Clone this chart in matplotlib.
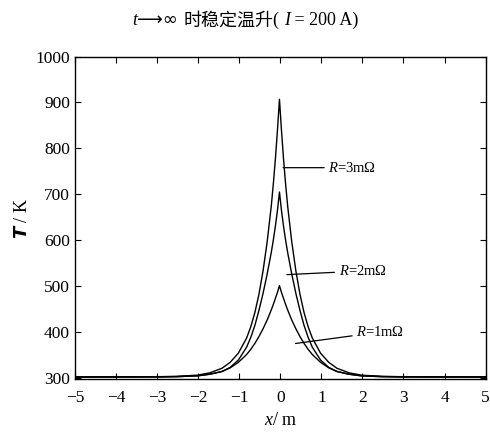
import matplotlib
matplotlib.use("Agg")
import matplotlib.pyplot as plt
import numpy as np

# Distance from the peak centre (m) at which values were read
offsets = [0.0, 0.05, 0.1, 0.15, 0.2, 0.3, 0.4, 0.5, 0.6, 0.7, 0.8, 1.0, 1.2, 1.4, 1.7, 2.0, 2.5, 3.0, 5.2]
center = -0.02

# Temperature (K) read at those offsets, mirrored on both sides of the peak
T_R3 = [907, 838, 776, 722, 674, 596, 533, 482, 442, 411, 387, 354, 334, 321, 311, 306, 303.5, 302.6, 302]
T_R2 = [705, 664, 630, 600, 573, 526, 484, 447, 414, 388, 367, 339, 323, 314, 308, 304.5, 302.8, 302.3, 302]
T_R1 = [501, 486, 473, 460, 448, 426, 407, 390, 375, 362, 351, 334, 322, 314, 308, 304.5, 302.7, 302.3, 302]

series_labels = ["$R$=3m\u03a9", "$R$=2m\u03a9", "$R$=1m\u03a9"]
xticks = [-5, -4, -3, -2, -1, 0, 1, 2, 3, 4, 5]
yticks = [300, 400, 500, 600, 700, 800, 900, 1000]

FAM = ['Liberation Serif', 'Noto Sans CJK SC', 'DejaVu Sans']
plt.rcParams['font.family'] = FAM
plt.rcParams['mathtext.fontset'] = 'custom'
plt.rcParams['mathtext.rm'] = 'Liberation Serif'
plt.rcParams['mathtext.it'] = 'Liberation Serif:italic'
plt.rcParams['mathtext.bf'] = 'Liberation Serif:bold'

fig = plt.figure(figsize=(4.9, 4.32), dpi=100)
ax = fig.add_axes([0.153, 0.122, 0.838, 0.747])

off = np.array(offsets)
for T in (T_R3, T_R2, T_R1):
    Tv = np.array(T)
    xs = np.concatenate([center - off[::-1], center + off[1:]])
    ys = np.concatenate([Tv[::-1], Tv[1:]])
    ax.plot(xs, ys, color='black', lw=1.0)

ax.set_xlim(-5, 5)
ax.set_ylim(297, 1000)
ax.set_xticks(xticks)
ax.set_yticks(yticks)
ax.set_xticklabels([("\u2212%d" % -v) if v < 0 else str(v) for v in xticks])
ax.tick_params(direction='in', top=True, right=True, length=4, width=0.8, labelsize=12.5)
ax.tick_params(axis='x', pad=8)
for s in ax.spines.values():
    s.set_linewidth(1.0)

# annotations
ax.annotate(series_labels[0], xy=(0.07, 758), xytext=(1.17, 758),
            fontsize=10.5, va='center', ha='left',
            arrowprops=dict(arrowstyle='-', color='black', lw=0.9, shrinkA=1, shrinkB=0))
ax.annotate(series_labels[1], xy=(0.16, 525), xytext=(1.42, 533),
            fontsize=10.5, va='center', ha='left',
            arrowprops=dict(arrowstyle='-', color='black', lw=0.9, shrinkA=1, shrinkB=0))
ax.annotate(series_labels[2], xy=(0.37, 375), xytext=(1.85, 400),
            fontsize=10.5, va='center', ha='left',
            arrowprops=dict(arrowstyle='-', color='black', lw=0.9, shrinkA=1, shrinkB=0))

ax.set_xlabel("$x$/ m", fontsize=13, labelpad=4)
ax.set_ylabel(r"$\boldsymbol{T}$ / K", fontsize=13, labelpad=3)

# title assembled from pieces (italic symbols + CJK text)
pieces = [("t", 'italic', FAM), ("\u27f6\u221e ", 'normal', ['DejaVu Sans']),
          ("时稳定温升", 'normal', ['Noto Sans CJK SC']),
          ("( ", 'normal', FAM), ("I", 'italic', FAM), (" = 200 A)", 'normal', FAM)]
fig.canvas.draw()
renderer = fig.canvas.get_renderer()
texts = []
for s, style, fam in pieces:
    t = fig.text(0, 0.953, s, ha='left', va='center', fontsize=13, style=style, family=fam)
    texts.append(t)
widths = [t.get_window_extent(renderer).width for t in texts]
total = sum(widths)
x0 = (fig.bbox.width - total) / 2
for t, w in zip(texts, widths):
    t.set_x(x0 / fig.bbox.width)
    x0 += w

fig.savefig("out.png", dpi=100)
